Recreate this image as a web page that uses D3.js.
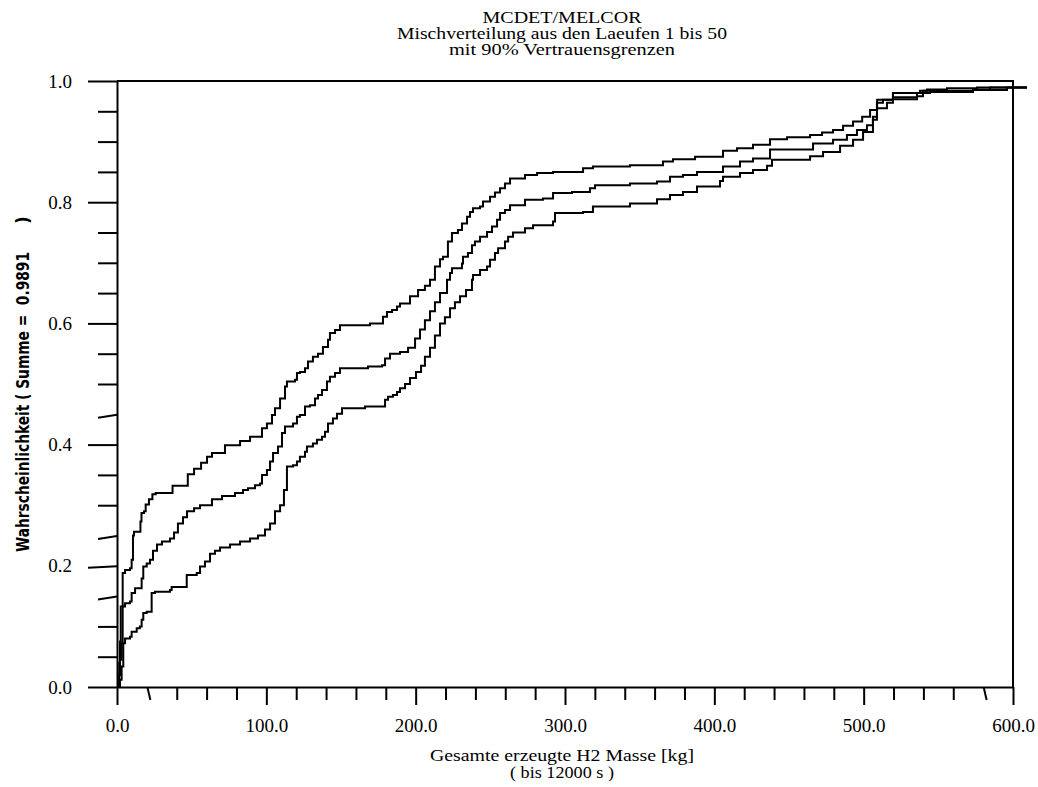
<html>
<head>
    <script src="https://d3js.org/d3.v7.min.js"></script>
    <style>
        body { margin: 0; background: white; }
        text { font-family: "Liberation Serif", "Times New Roman", serif; fill: black; }
    </style>
</head>
<body>
    <svg id="cdf" width="1038" height="787"></svg>
    <script>
        // step points [H2 mass kg, probability]
        const upperBound = [
            [0,0],[0.9,0.01],[1.5,0.04],[2.0,0.075],[2.5,0.133],[3.8,0.188],[5.4,0.193],[8.7,0.196],
            [9.8,0.21],[10.7,0.25],[11.4,0.256],[15.7,0.273],[16.4,0.287],[18.1,0.29],[19.2,0.301],
            [21.4,0.31],[23.7,0.318],[25.9,0.32],[37.2,0.332],[47.4,0.351],[51.6,0.36],[56.3,0.37],
            [60.3,0.38],[63.6,0.386],[72.3,0.399],[82.4,0.406],[89.1,0.413],[97.1,0.427],[100.4,0.435],
            [103.8,0.449],[105.8,0.46],[109.2,0.476],[112.5,0.496],[113.8,0.504],[119.2,0.507],
            [120.5,0.518],[122.5,0.52],[125.9,0.526],[127.9,0.537],[131.2,0.545],[134.6,0.55],
            [137.9,0.561],[141.3,0.573],[142.6,0.584],[146.0,0.589],[149.3,0.597],[169.4,0.6],
            [178.1,0.611],[180.8,0.619],[184.2,0.622],[187.5,0.628],[189.5,0.633],[196.2,0.645],
            [201.6,0.655],[206.2,0.662],[209.6,0.672],[212.9,0.694],[216.3,0.706],[218.3,0.71],
            [221.6,0.735],[224.3,0.749],[228.3,0.754],[231.0,0.765],[234.4,0.776],[236.4,0.784],
            [238.4,0.79],[243.1,0.793],[245.1,0.801],[249.8,0.809],[253.1,0.816],[256.5,0.823],
            [259.8,0.831],[263.2,0.839],[273.2,0.845],[281.3,0.848],[292.0,0.85],[312.1,0.856],
            [318.7,0.859],[343.5,0.861],[365.6,0.867],[372.3,0.871],[387.1,0.875],[405.8,0.885],
            [415.2,0.889],[425.9,0.895],[437.3,0.904],[448.7,0.907],[464.1,0.911],[472.1,0.915],
            [479.5,0.919],[486.2,0.926],[492.9,0.933],[499.0,0.941],[504.3,0.952],[509.0,0.969],
            [519.6,0.98],[537.7,0.984],[542.4,0.986],[555.8,0.988],[575.9,0.9891],[609.4,0.9891]
        ];
        const meanCurve = [
            [0,0],[1.3,0.02],[2.0,0.045],[3.1,0.072],[3.8,0.133],[5.4,0.138],[8.7,0.141],[9.8,0.155],
            [12.1,0.163],[16.5,0.179],[17.6,0.199],[19.9,0.204],[22.1,0.21],[24.1,0.225],[26.8,0.235],
            [30.1,0.24],[35.5,0.245],[38.2,0.255],[40.8,0.27],[44.2,0.28],[46.9,0.29],[51.6,0.295],
            [55.6,0.3],[63.6,0.31],[70.3,0.315],[79.0,0.32],[84.4,0.325],[87.7,0.328],[92.4,0.333],
            [95.8,0.336],[97.1,0.35],[100.4,0.358],[102.5,0.372],[104.5,0.386],[107.8,0.397],
            [110.5,0.419],[112.5,0.43],[117.9,0.435],[120.5,0.446],[122.5,0.449],[125.9,0.463],
            [129.2,0.465],[132.6,0.476],[134.6,0.482],[137.3,0.49],[140.6,0.504],[142.6,0.512],
            [146.0,0.518],[149.3,0.526],[168.1,0.529],[177.5,0.531],[179.5,0.542],[182.8,0.55],
            [189.5,0.553],[194.9,0.56],[199.6,0.575],[202.9,0.59],[206.2,0.605],[209.6,0.62],
            [212.9,0.635],[216.3,0.65],[221.0,0.672],[223.0,0.683],[224.3,0.691],[231.0,0.699],
            [231.7,0.71],[235.0,0.716],[237.7,0.729],[239.7,0.735],[243.1,0.743],[247.8,0.751],
            [251.1,0.76],[254.5,0.771],[256.5,0.782],[259.8,0.787],[263.2,0.795],[273.2,0.804],
            [285.3,0.806],[292.0,0.815],[304.7,0.817],[316.7,0.823],[320.1,0.828],[343.5,0.831],
            [361.6,0.834],[370.3,0.842],[379.0,0.845],[388.4,0.85],[405.8,0.859],[417.2,0.867],
            [425.9,0.872],[437.3,0.887],[466.1,0.897],[479.5,0.903],[488.8,0.911],[495.5,0.919],
            [502.2,0.927],[506.2,0.941],[508.9,0.964],[512.9,0.969],[519.6,0.973],[535.7,0.98],
            [539.7,0.984],[573.2,0.986],[584.6,0.9891],[609.4,0.9891]
        ];
        const lowerBound = [
            [0,0],[2.0,0.012],[3.1,0.034],[4.2,0.072],[5.4,0.08],[8.7,0.083],[9.8,0.091],[13.2,0.097],
            [15.3,0.1],[16.5,0.111],[17.6,0.122],[19.9,0.124],[23.2,0.155],[25.4,0.157],[35.5,0.16],
            [36.6,0.165],[46.7,0.185],[53.4,0.188],[55.6,0.199],[58.9,0.207],[62.3,0.22],[65.6,0.225],
            [69.0,0.23],[75.7,0.235],[82.4,0.24],[89.1,0.245],[94.4,0.25],[99.1,0.26],[102.5,0.27],
            [105.8,0.29],[109.2,0.3],[111.8,0.325],[113.8,0.364],[117.9,0.366],[120.5,0.372],
            [122.5,0.38],[125.9,0.388],[127.2,0.397],[131.2,0.402],[133.9,0.408],[137.3,0.413],
            [139.3,0.421],[141.3,0.435],[144.6,0.443],[147.3,0.451],[150.7,0.46],[166.1,0.463],
            [179.5,0.474],[181.5,0.479],[184.8,0.482],[187.5,0.487],[189.5,0.493],[192.9,0.5],
            [196.2,0.51],[200.2,0.52],[203.6,0.53],[206.2,0.545],[209.6,0.56],[212.9,0.58],
            [216.3,0.6],[219.6,0.61],[223.0,0.625],[226.3,0.635],[229.7,0.645],[233.7,0.655],
            [237.7,0.672],[238.4,0.68],[243.1,0.688],[247.8,0.694],[249.8,0.705],[253.1,0.716],
            [255.2,0.724],[259.8,0.735],[261.9,0.743],[265.2,0.75],[273.2,0.757],[278.6,0.762],
            [292.0,0.768],[293.3,0.782],[312.1,0.784],[318.7,0.793],[343.5,0.798],[361.6,0.805],
            [370.3,0.812],[379.0,0.817],[388.4,0.826],[403.8,0.835],[405.8,0.842],[417.2,0.848],
            [425.9,0.853],[435.3,0.86],[438.6,0.87],[464.1,0.876],[472.8,0.883],[484.2,0.893],
            [492.9,0.903],[499.6,0.916],[506.2,0.936],[508.9,0.955],[515.6,0.964],[519.6,0.97],
            [535.7,0.975],[539.7,0.98],[544.4,0.982],[573.2,0.985],[596.0,0.9891],[609.4,0.9891]
        ];

        const xMajorTicks = [0, 100, 200, 300, 400, 500, 600];
        const xMinorTicks = d3.range(20, 600, 20).filter(v => v % 100 != 0);
        const yMajorTicks = [0, 0.2, 0.4, 0.6, 0.8, 1.0];
        const yMinorTicks = [0.05, 0.1, 0.15, 0.25, 0.3, 0.35, 0.45, 0.5, 0.55, 0.65, 0.7, 0.75, 0.85, 0.9, 0.95];

        const titleLines = ["MCDET/MELCOR", "Mischverteilung aus den Laeufen 1 bis 50", "mit 90% Vertrauensgrenzen"];
        const xLabelLines = ["Gesamte erzeugte H2 Masse [kg]", "( bis 12000 s )"];
        const yLabel = "Wahrscheinlichkeit ( Summe =  0.9891";

        const serif = '"Liberation Serif", "Times New Roman", serif';
        const narrow = '"Liberation Sans Narrow", "DejaVu Sans Condensed", sans-serif';

        const svg = d3.select("#cdf");
        const plotLeft = 117, plotRight = 1013, plotTop = 81, plotBottom = 687;

        const x = d3.scaleLinear().domain([0, 600]).range([plotLeft, plotRight]);
        const y = d3.scaleLinear().domain([0, 1]).range([plotBottom, plotTop]);

        // some ticks in the original plot are drawn a little crooked
        const crookedY = {0.45: 3, 0.25: 3, 0.2: 1.5, 0.15: 3};
        const crookedX = {20: 3, 580: 3};

        // minor ticks
        svg.append("g")
            .attr("transform", "translate(" + plotLeft + ",0)")
            .call(d3.axisLeft(y).tickValues(yMinorTicks).tickSize(19).tickFormat(""))
            .call(g => g.select(".domain").remove())
            .selectAll(".tick line")
            .attr("y2", d => crookedY[d] || 0);
        svg.append("g")
            .attr("transform", "translate(0," + plotBottom + ")")
            .call(d3.axisBottom(x).tickValues(xMinorTicks).tickSize(13).tickFormat(""))
            .call(g => g.select(".domain").remove())
            .selectAll(".tick line")
            .attr("x2", d => crookedX[d] || 0);

        // major ticks with labels
        const yAxis = svg.append("g")
            .attr("transform", "translate(" + plotLeft + ",0)")
            .call(d3.axisLeft(y).tickValues(yMajorTicks).tickSize(29).tickSizeOuter(0).tickPadding(16).tickFormat(d3.format(".1f")))
            .attr("font-family", serif)
            .attr("font-size", 19);
        yAxis.selectAll(".tick line").attr("y2", d => crookedY[d] || 0);
        const xAxis = svg.append("g")
            .attr("transform", "translate(0," + plotBottom + ")")
            .call(d3.axisBottom(x).tickValues(xMajorTicks).tickSize(18).tickSizeOuter(0).tickPadding(14).tickFormat(d3.format(".1f")))
            .attr("font-family", serif)
            .attr("font-size", 19);

        svg.selectAll(".tick text")
            .style("font-family", serif)
            .style("font-size", "19px");
        svg.selectAll(".tick line, .domain")
            .attr("stroke", "black")
            .attr("stroke-width", 2);

        // top and right border of the frame
        svg.append("path")
            .attr("d", "M" + plotLeft + "," + plotTop + "H" + plotRight + "V" + plotBottom)
            .attr("fill", "none")
            .attr("stroke", "black")
            .attr("stroke-width", 2);

        const line = d3.line()
            .x(d => x(d[0]))
            .y(d => y(d[1]))
            .curve(d3.curveStepAfter);

        svg.selectAll(".curve")
            .data([lowerBound, meanCurve, upperBound])
            .join("path")
            .attr("class", "curve")
            .attr("d", line)
            .attr("fill", "none")
            .attr("stroke", "black")
            .attr("stroke-width", 2);

        // title, widths as in the original
        const titleWidths = [159, 330, 226];
        svg.selectAll(".title")
            .data(titleLines)
            .join("text")
            .attr("class", "title")
            .attr("x", 562)
            .attr("y", (d, i) => 23 + i * 16)
            .attr("text-anchor", "middle")
            .attr("textLength", (d, i) => titleWidths[i])
            .attr("lengthAdjust", "spacingAndGlyphs")
            .style("font-size", "17.5px")
            .text(d => d);

        // x axis label
        const xLabelWidths = [264, 104];
        svg.selectAll(".xlabel")
            .data(xLabelLines)
            .join("text")
            .attr("class", "xlabel")
            .attr("x", 562)
            .attr("y", (d, i) => 761 + i * 17)
            .attr("text-anchor", "middle")
            .attr("textLength", (d, i) => xLabelWidths[i])
            .attr("lengthAdjust", "spacingAndGlyphs")
            .style("font-size", "17.5px")
            .text(d => d);

        // y axis label, bold condensed
        const yl = svg.append("g").attr("transform", "translate(29,552) rotate(-90)");
        yl.append("text")
            .attr("x", 0).attr("y", 0)
            .attr("textLength", 300)
            .attr("lengthAdjust", "spacingAndGlyphs")
            .style("font-family", narrow)
            .style("font-weight", "bold")
            .style("font-size", "18px")
            .style("white-space", "pre")
            .text(yLabel);
        yl.append("text")
            .attr("x", 332).attr("y", 0)
            .attr("text-anchor", "middle")
            .style("font-family", narrow)
            .style("font-weight", "bold")
            .style("font-size", "18px")
            .text(")");
    </script>
</body></html>
